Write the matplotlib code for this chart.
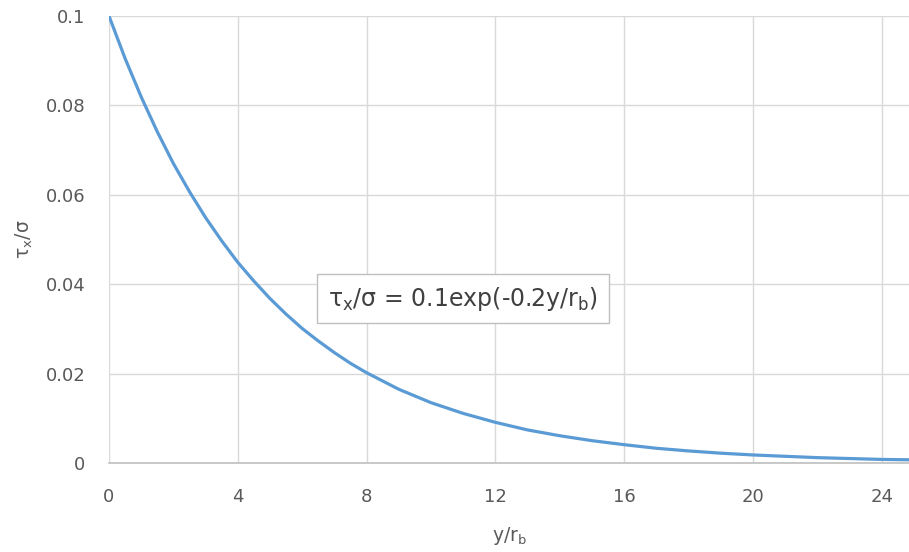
import matplotlib
matplotlib.use('Agg')
import matplotlib.pyplot as plt

# values
y_rb = [0, 0.5, 1, 1.5, 2, 2.5, 3, 3.5, 4, 4.5, 5, 5.5, 6, 6.5, 7, 7.5, 8,
        9, 10, 11, 12, 13, 14, 15, 16, 17, 18, 19, 20, 21, 22, 23, 24, 25]
tau_sigma = [0.1, 0.0905, 0.0819, 0.0741, 0.0670, 0.0607, 0.0549, 0.0497, 0.0449,
             0.0407, 0.0368, 0.0333, 0.0301, 0.0273, 0.0247, 0.0223, 0.0202,
             0.0165, 0.0135, 0.0111, 0.0091, 0.0074, 0.0061, 0.0050, 0.0041,
             0.0033, 0.0027, 0.0022, 0.0018, 0.0015, 0.0012, 0.0010, 0.0008, 0.0007]
x_ticks = [0, 4, 8, 12, 16, 20, 24]
y_ticks = [0, 0.02, 0.04, 0.06, 0.08, 0.1]
y_tick_labels = ['0', '0.02', '0.04', '0.06', '0.08', '0.1']

plt.rcParams['font.family'] = ['DejaVu Sans']
plt.rcParams['mathtext.default'] = 'regular'

fig = plt.figure(figsize=(9.09, 5.52), dpi=100)
ax = fig.add_axes([109 / 909, 1 - 463 / 552, 1 - 109 / 909, (463 - 16) / 552])

ax.plot(y_rb, tau_sigma, color='#5b9bd5', lw=2.3, solid_capstyle='round', zorder=3)

ax.set_xlim(0, 24.85)
ax.set_ylim(0, 0.1)
ax.set_xticks(x_ticks)
ax.set_yticks(y_ticks)
ax.set_yticklabels(y_tick_labels)
ax.tick_params(length=0, labelsize=13, labelcolor='#595959')
ax.tick_params(axis='x', pad=18)
ax.tick_params(axis='y', pad=17)

ax.grid(True, color='#d9d9d9', lw=1)
ax.set_axisbelow(True)
for s in ['top', 'right', 'left']:
    ax.spines[s].set_visible(False)
ax.spines['bottom'].set_color('#bfbfbf')
ax.spines['bottom'].set_linewidth(1.2)

ax.set_xlabel('y/r$_b$', fontsize=13.5, color='#595959', labelpad=14)
ax.set_ylabel('τ$_x$/σ', fontsize=13.5, color='#595959', labelpad=8)

ax.text(11.0, 0.0368, 'τ$_x$/σ = 0.1exp(-0.2y/r$_b$)', fontsize=17, color='#404040',
        ha='center', va='center', zorder=4,
        bbox=dict(boxstyle='square,pad=0.45', fc='white', ec='#bfbfbf', lw=1))

fig.savefig('out.png', dpi=100)
